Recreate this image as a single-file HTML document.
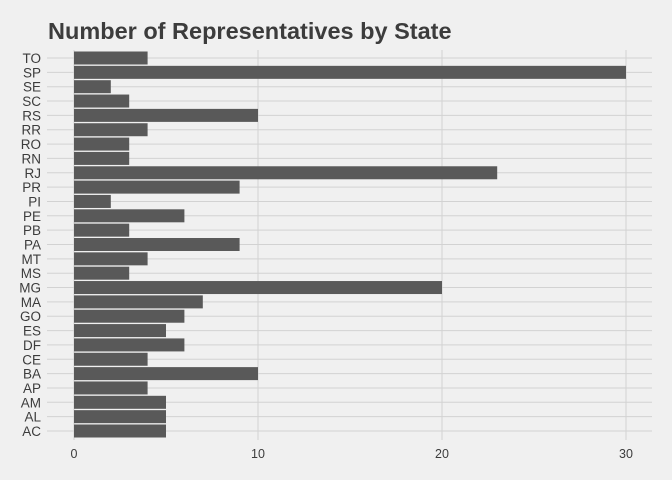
<!DOCTYPE html>
<html><head><meta charset="utf-8"><style>
body{margin:0;background:#f0f0f0;}
svg{display:block;font-family:"Liberation Sans",sans-serif;}
</style></head><body>
<svg id="chart" width="672" height="480">
<rect width="672" height="480" fill="#f0f0f0"/>
<text x="48" y="39" font-size="23.5" font-weight="bold" fill="#3c3c3c">Number of Representatives by State</text>
<g id="grid"></g><g id="bars"></g><g id="labels"></g>
</svg>
<script>
const categories=["TO","SP","SE","SC","RS","RR","RO","RN","RJ","PR","PI","PE","PB","PA","MT","MS","MG","MA","GO","ES","DF","CE","BA","AP","AM","AL","AC"];
const values=[4,30,2,3,10,4,3,3,23,9,2,6,3,9,4,3,20,7,6,5,6,4,10,4,5,5,5];
const xTicks=[0,10,20,30];
const NS="http://www.w3.org/2000/svg";
const x0=74,xs=18.4,yTop=58,yBot=431;
const step=(yBot-yTop)/(categories.length-1);
const X=v=>x0+v*xs;
const Y=i=>yTop+i*step;
function mk(t,a,p){const e=document.createElementNS(NS,t);for(const k in a)e.setAttribute(k,a[k]);p.appendChild(e);return e;}
const grid=document.getElementById('grid'),bars=document.getElementById('bars'),labels=document.getElementById('labels');
xTicks.forEach(t=>{
 const l=mk('line',{x1:X(t),x2:X(t),y1:50,y2:440,stroke:'#d2d2d2','stroke-width':1},grid);
 
 
 const tx=mk('text',{x:X(t),y:458,'text-anchor':'middle','font-size':12.5,fill:'#3c3c3c'},labels);
 tx.textContent=t;
 
 
});
categories.forEach((c,i)=>{
 const y=Y(i);
 const g=mk('line',{x1:47,x2:652,y1:y,y2:y,stroke:'#d2d2d2','stroke-width':1},grid);
 
 
 const b=mk('rect',{x:X(0),y:y-6.5,width:X(values[i])-X(0),height:13,fill:'#595959'},bars);
 
 
 const t=mk('text',{x:41,y:y+5,'text-anchor':'end','font-size':13.5,fill:'#3c3c3c'},labels);
 t.textContent=c;
 
 
});
</script>
</body></html>
